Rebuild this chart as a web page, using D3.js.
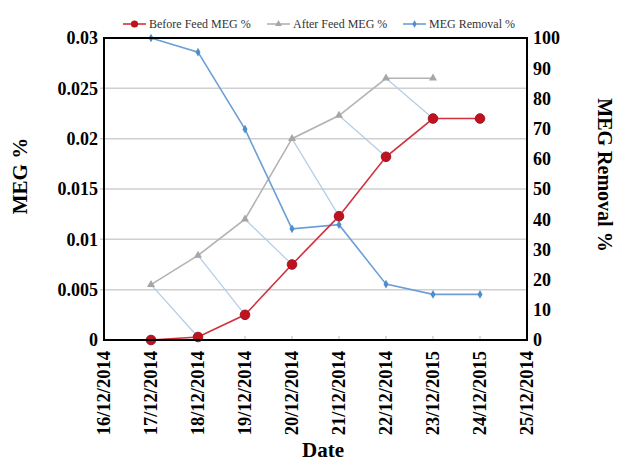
<!DOCTYPE html>
<html><head><meta charset="utf-8">
<script src="https://cdn.jsdelivr.net/npm/d3@7"></script>
<style>body{margin:0;background:#fff}svg{display:block}</style>
</head><body>
<svg id="c" width="617" height="461"></svg>
<script>
const dates = ["16/12/2014","17/12/2014","18/12/2014","19/12/2014","20/12/2014","21/12/2014","22/12/2014","23/12/2015","24/12/2015","25/12/2014"];
const beforeFeed = [null, 0.0000, 0.0003, 0.0025, 0.0075, 0.0123, 0.0182, 0.0220, 0.0220, null];
const afterFeed  = [null, 0.0055, 0.0084, 0.0120, 0.0200, 0.0223, 0.0260, 0.0260, null, null];
const removal    = [null, 100, 95.3, 69.8, 36.8, 38.2, 18.5, 15.1, 15.1, null];
const leftTicks = [0, 0.005, 0.01, 0.015, 0.02, 0.025, 0.03];
const rightTicks = [0,10,20,30,40,50,60,70,80,90,100];
const seriesNames = ["Before Feed MEG %","After Feed MEG %","MEG Removal %"];

const svg = d3.select("#c");
const L = 104, R = 527, T = 38, B = 340;
const x = d3.scaleLinear().domain([0, dates.length-1]).range([L, R]);
const yL = d3.scaleLinear().domain([0, 0.03]).range([B, T]);
const yR = d3.scaleLinear().domain([0, 100]).range([B, T]);
const serif = "'Liberation Serif','Times New Roman',serif";

// gridlines
svg.append("g").selectAll("line").data(leftTicks.filter(d=>d>0 && d<0.03)).join("line")
  .attr("x1", L-4).attr("x2", R).attr("y1", d=>yL(d)).attr("y2", d=>yL(d))
  .attr("stroke", "#cfcfcf").attr("stroke-width", 1.5);

// bottom inner ticks
svg.append("g").selectAll("line").data(d3.range(1, dates.length-1)).join("line")
  .attr("x1", d=>x(d)).attr("x2", d=>x(d)).attr("y1", B).attr("y2", B-4)
  .attr("stroke", "#bbb").attr("stroke-width", 1);

// connectors: after feed (day i) -> before feed (day i+1)
const conn = [];
for (let i = 0; i < dates.length-1; i++) {
  if (afterFeed[i] != null && beforeFeed[i+1] != null && afterFeed[i+1] != null) conn.push(i);
}
svg.append("g").selectAll("line").data(conn).join("line")
  .attr("x1", i=>x(i)).attr("y1", i=>yL(afterFeed[i]))
  .attr("x2", i=>x(i+1)).attr("y2", i=>yL(beforeFeed[i+1]))
  .attr("stroke", "#b4cce6").attr("stroke-width", 1.2);

function pts(arr){ return arr.map((v,i)=>[i,v]).filter(d=>d[1]!=null); }

// after feed (gray)
const grayLine = d3.line().x(d=>x(d[0])).y(d=>yL(d[1]));
svg.append("path").attr("d", grayLine(pts(afterFeed))).attr("fill","none")
  .attr("stroke","#b3b3b3").attr("stroke-width",1.6);
const tri = d3.symbol().type(d3.symbolTriangle).size(28);
svg.append("g").selectAll("path").data(pts(afterFeed)).join("path")
  .attr("d", tri).attr("transform", d=>`translate(${x(d[0])},${yL(d[1])})`)
  .attr("fill","#a6a6a6");

// removal (blue)
const blueLine = d3.line().x(d=>x(d[0])).y(d=>yR(d[1]));
svg.append("path").attr("d", blueLine(pts(removal))).attr("fill","none")
  .attr("stroke","#6b9fd6").attr("stroke-width",1.6);
const dia = d3.symbol().type(d3.symbolDiamond).size(22);
svg.append("g").selectAll("path").data(pts(removal)).join("path")
  .attr("d", dia).attr("transform", d=>`translate(${x(d[0])},${yR(d[1])})`)
  .attr("fill","#4f8ccc");

// before feed (red)
const redLine = d3.line().x(d=>x(d[0])).y(d=>yL(d[1]));
svg.append("path").attr("d", redLine(pts(beforeFeed))).attr("fill","none")
  .attr("stroke","#d2303c").attr("stroke-width",1.6);
svg.append("g").selectAll("circle").data(pts(beforeFeed)).join("circle")
  .attr("cx", d=>x(d[0])).attr("cy", d=>yL(d[1])).attr("r", 4.8)
  .attr("fill","#c0121e").attr("stroke","#9a1a26").attr("stroke-width",1);

// frame
svg.append("rect").attr("x", L).attr("y", T).attr("width", R-L).attr("height", B-T)
  .attr("fill","none").attr("stroke","#000").attr("stroke-width",2);

// left tick labels
svg.append("g").selectAll("text").data(leftTicks).join("text")
  .attr("x", 98).attr("y", d=>yL(d)).attr("dy","0.35em").attr("text-anchor","end")
  .attr("font-family", serif).attr("font-weight","bold").attr("font-size",18)
  .text(d=>d===0?"0":String(d));

// right tick labels
svg.append("g").selectAll("text").data(rightTicks).join("text")
  .attr("x", 533).attr("y", d=>yR(d)).attr("dy","0.35em").attr("text-anchor","start")
  .attr("font-family", serif).attr("font-weight","bold").attr("font-size",18)
  .text(d=>d);

// x tick labels
svg.append("g").selectAll("text").data(dates).join("text")
  .attr("transform", (d,i)=>`translate(${x(i)},351) rotate(-90)`)
  .attr("dy","0.35em").attr("text-anchor","end")
  .attr("font-family", serif).attr("font-weight","bold").attr("font-size",18.5)
  .text(d=>d);

// axis titles
svg.append("text").attr("transform","translate(20,176) rotate(-90)").attr("dy","0.35em")
  .attr("text-anchor","middle").attr("font-family",serif).attr("font-weight","bold")
  .attr("font-size",21).text("MEG %");
svg.append("text").attr("transform","translate(605,175) rotate(90)").attr("dy","0.35em")
  .attr("text-anchor","middle").attr("font-family",serif).attr("font-weight","bold")
  .attr("font-size",20).text("MEG Removal %");
svg.append("text").attr("x",323).attr("y",450).attr("dy","0.35em")
  .attr("text-anchor","middle").attr("font-family",serif).attr("font-weight","bold")
  .attr("font-size",21).text("Date");

// legend
const lg = svg.append("g").attr("font-family",serif).attr("font-size",12).attr("fill","#333");
const legX = [123, 267, 403];
const legColors = ["#d2303c","#b3b3b3","#6b9fd6"];
seriesNames.forEach((n,i)=>{
  const g = lg.append("g").attr("transform",`translate(${legX[i]},24)`);
  g.append("line").attr("x1",0).attr("x2",23).attr("stroke",legColors[i]).attr("stroke-width",1.6);
  if (i===0) g.append("circle").attr("cx",11.5).attr("r",3.6).attr("fill","#c0121e");
  if (i===1) g.append("path").attr("d",d3.symbol().type(d3.symbolTriangle).size(20)).attr("transform","translate(11.5,0)").attr("fill","#a6a6a6");
  if (i===2) g.append("path").attr("d",d3.symbol().type(d3.symbolDiamond).size(16)).attr("transform","translate(11.5,0)").attr("fill","#4f8ccc");
  g.append("text").attr("x",26).attr("dy","0.35em").text(n);
});
</script>
</body></html>
